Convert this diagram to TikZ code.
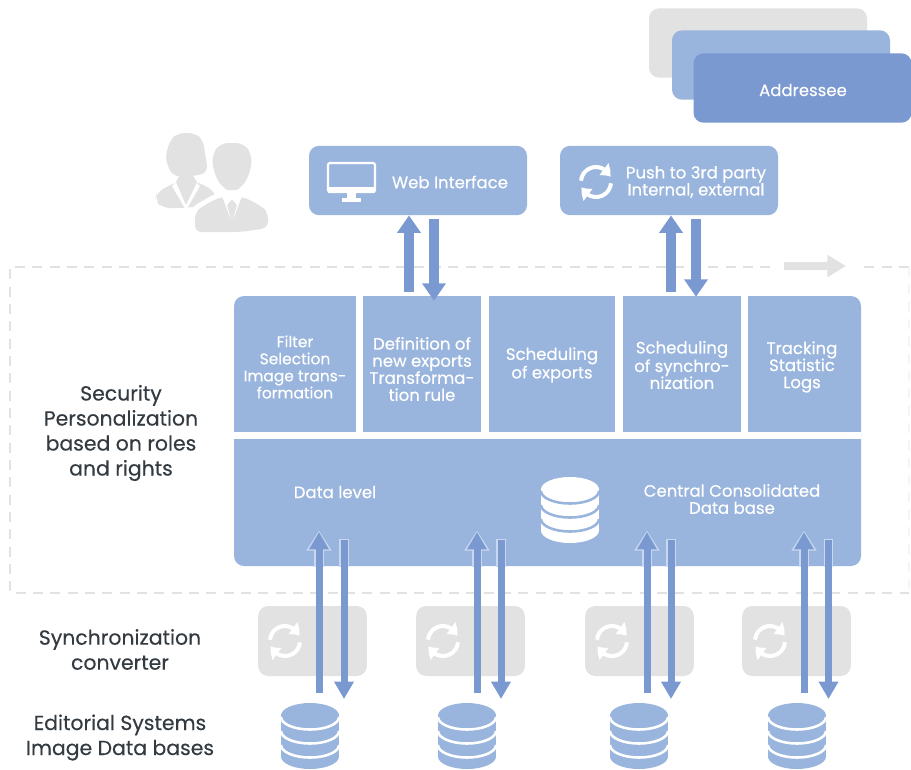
\documentclass[tikz,border=0pt]{standalone}
\usepackage{fontspec}
\setmainfont{Poppins}[FakeBold=0.3]
\usetikzlibrary{arrows.meta,bending}

\definecolor{panelblue}{HTML}{9AB5DD}
\definecolor{arrowblue}{HTML}{7B99D1}
\definecolor{halo}{HTML}{C9D8EE}
\definecolor{softgrey}{HTML}{E2E2E2}
\definecolor{labelgrey}{HTML}{333A40}

\tikzset{
	panel/.style={fill=panelblue, rounded corners=7.5pt, inner sep=0pt, minimum width=163.5pt, minimum height=52pt},
	syncbox/.style={fill=softgrey, rounded corners=7.5pt, inner sep=0pt, minimum width=81.5pt, minimum height=52.5pt},
	whitetext/.style={text=white, align=center, inner sep=0pt, font=\fontsize{12.4}{12.8}\selectfont},
	sidetext/.style={text=labelgrey, align=center, inner sep=0pt, font=\fontsize{15.3}{18.75}\selectfont},
	bigup/.style={arrowblue, line width=7pt, -{Triangle[length=13pt, width=17pt]}},
	thinup/.style={arrowblue, line width=5.25pt, -{Triangle[length=13pt, width=14pt]}},
	thinhalo/.style={halo, line width=7pt, -{Triangle[length=15pt, width=18pt]}}
}

\newcommand{\dbstack}[4]{
	\fill[#3] (#1-29,#2+12.5) rectangle (#1+29,#2+53.5);
	\fill[#3] (#1,#2+12.5) ellipse [x radius=29, y radius=12.5];
	\fill[#3] (#1,#2+53.5) ellipse [x radius=29, y radius=12.5];
	\draw[#4, line width=1.9pt] (#1-29,#2+14) arc [start angle=180, end angle=0, x radius=29, y radius=12.5];
	\draw[#4, line width=1.9pt] (#1-29,#2+28) arc [start angle=180, end angle=0, x radius=29, y radius=12.5];
	\draw[#4, line width=1.9pt] (#1-29,#2+42) arc [start angle=180, end angle=0, x radius=29, y radius=12.5];
}

\newcommand{\syncicon}[3]{
	\draw[white, line width=#3*0.2pt, -{Triangle[length=#3*0.5pt, width=#3*0.72pt, bend]}] (#1,#2) ++(185:#3) arc [start angle=185, end angle=340, radius=#3];
	\draw[white, line width=#3*0.2pt, -{Triangle[length=#3*0.5pt, width=#3*0.72pt, bend]}] (#1,#2) ++(5:#3) arc [start angle=5, end angle=160, radius=#3];
}

\begin{document}
\begin{tikzpicture}[x=0.75pt, y=-0.75pt]

	\useasboundingbox (0,0) rectangle (911,769);

	% dashed frame
	\draw[softgrey, line width=1.3pt, dash pattern=on 7.5pt off 5.5pt] (909,267) -- (10,267) -- (10,593) -- (909,593);
	\draw[softgrey!35, line width=1pt, dash pattern=on 7.5pt off 5.5pt] (909,267) -- (909,593);
	\fill[white] (776,262) rectangle (860,272);
	\coordinate (flowa) at (784,266);
	\coordinate (flowb) at (846,266);
	\draw[softgrey, line width=6pt, -{Triangle[length=14pt, width=16pt]}] (flowa) -- (flowb);

	% addressee stack
	\node[panel, fill=softgrey] (addrback) at (758,43) {};
	\node[panel] (addrmid) at (781,65) {};
	\node[panel, fill=arrowblue] (addrfront) at (802.5,88) {};
	\node[whitetext] (addrlabel) at (803,90) {Addressee};

	% people
	\fill[softgrey, rounded corners=5pt] (165,158) -- (170,140) -- (178,133) -- (195,133) -- (203,140) -- (208,172) -- (196,176) -- (172,176) -- cycle;
	\fill[softgrey, rounded corners=6pt] (155,200) -- (157,192) -- (178,181) -- (196,181) -- (216,192) -- (216,204) -- (185,208) -- (162,208) -- cycle;
	\fill[white] (186,210) -- (172,186) -- (180,178) -- (192,178) -- (200,186) -- cycle;
	\fill[softgrey] (186,205) -- (176,182) -- (180,174) -- (192,174) -- (197,182) -- cycle;
	\fill[white] (232,166) ellipse [x radius=23, y radius=29];
	\fill[white, rounded corners=6pt] (190,236) -- (190,208) -- (218,192) -- (246,192) -- (273,208) -- (273,236) -- cycle;
	\fill[softgrey, rounded corners=6pt] (212,155) -- (220,143) -- (244,143) -- (252,155) -- (251,170) -- (243,187) -- (232,192) -- (221,187) -- (213,170) -- cycle;
	\fill[softgrey, rounded corners=5pt] (195,232) -- (195,212) -- (203,206) -- (220,197) -- (244,197) -- (261,206) -- (268,212) -- (268,228) -- (240,232) -- cycle;
	\fill[white] (222,196) -- (231,220) -- (227,205) -- (232,199) -- (237,205) -- (233,220) -- (242,196) -- cycle;

	% upper panels
	\node[panel] (webif) at (418,180.5) {};
	\node[panel] (pushparty) at (669,180.5) {};
	\node[whitetext] (weblabel) at (450,182) {Web Interface};
	\node[whitetext] (pushlabel) at (696,182) {Push to 3rd party\\Internal, external};

	% monitor
	\draw[white, line width=1.6pt, rounded corners=1.5pt] (328,163) rectangle (375,192);
	\fill[white] (328,187) rectangle (375,193);
	\fill[white] (347,193) rectangle (356,199);
	\fill[white] (342,198) rectangle (361,202);
	\syncicon{596}{182}{15}

	% main block
	\fill[panelblue, rounded corners=7.5pt] (234,296) rectangle (861,566);
	\fill[white] (356,296) rectangle (363,432);
	\fill[white] (481,296) rectangle (488.5,432);
	\fill[white] (615,296) rectangle (623,432);
	\fill[white] (740.5,296) rectangle (748,432);
	\fill[white] (234,432) rectangle (861,439);

	\node[whitetext, minimum width=91pt, minimum height=102pt, font=\fontsize{11.6}{12.8}\selectfont] (filterbox) at (295,367) {Filter\\Selection\\Image trans-\\formation};
	\node[whitetext, minimum width=88pt, minimum height=102pt] (defexport) at (422,369) {Definition of\\new exports\\Transforma-\\tion rule};
	\node[whitetext, minimum width=95pt, minimum height=102pt] (schedexport) at (552,365) {Scheduling\\of exports};
	\node[whitetext, minimum width=88pt, minimum height=102pt] (schedsync) at (682,365) {Scheduling\\of synchro-\\nization};
	\node[whitetext, minimum width=84pt, minimum height=102pt] (tracking) at (802,367) {Tracking\\Statistic\\Logs};
	\node[whitetext] (datalevel) at (335,492) {Data level};
	\node[whitetext] (central) at (732,499) {Central Consolidated\\Data base};
	\dbstack{570}{477}{white}{panelblue}

	% upper arrows
	\coordinate (weba) at (409,292);
	\coordinate (webb) at (434,219);
	\coordinate (pusha) at (671,292);
	\coordinate (pushb) at (696,219);
	\draw[bigup] (weba) -- (weba |- webif.south);
	\draw[bigup] (webb) -- (webb |- defexport.north);
	\draw[bigup] (pusha) -- (pusha |- pushparty.south);
	\draw[bigup] (pushb) -- (pushb |- schedsync.north);

	% converters
	\node[syncbox] (synca) at (312.5,641) {};
	\node[syncbox] (syncb) at (470.5,641) {};
	\node[syncbox] (syncc) at (639.5,641) {};
	\node[syncbox] (syncd) at (796.5,641) {};
	\syncicon{285}{641}{15}
	\syncicon{443}{641}{15}
	\syncicon{612}{641}{15}
	\syncicon{770}{641}{15}

	% databases
	\dbstack{310}{703}{panelblue}{white}
	\dbstack{467}{703}{panelblue}{white}
	\dbstack{639}{703}{panelblue}{white}
	\dbstack{797}{703}{panelblue}{white}

	% lower arrows
	\coordinate (upa) at (319,693);
	\coordinate (uptipa) at (319,532);
	\coordinate (downa) at (344,540);
	\coordinate (downtipa) at (344,699);
	\coordinate (upb) at (477,693);
	\coordinate (uptipb) at (477,532);
	\coordinate (downb) at (501,540);
	\coordinate (downtipb) at (501,699);
	\coordinate (upc) at (647,693);
	\coordinate (uptipc) at (647,532);
	\coordinate (downc) at (671,540);
	\coordinate (downtipc) at (671,699);
	\coordinate (upd) at (804,693);
	\coordinate (uptipd) at (804,532);
	\coordinate (downd) at (828.5,540);
	\coordinate (downtipd) at (828.5,699);

	\begin{scope}
		\clip (234,296) rectangle (861,566);
		\draw[thinhalo] (upa) -- ([yshift=1pt]uptipa);
		\draw[thinhalo] (upb) -- ([yshift=1pt]uptipb);
		\draw[thinhalo] (upc) -- ([yshift=1pt]uptipc);
		\draw[thinhalo] (upd) -- ([yshift=1pt]uptipd);
		\draw[halo, line width=7pt] ([yshift=1pt]downa) -- (downtipa);
		\draw[halo, line width=7pt] ([yshift=1pt]downb) -- (downtipb);
		\draw[halo, line width=7pt] ([yshift=1pt]downc) -- (downtipc);
		\draw[halo, line width=7pt] ([yshift=1pt]downd) -- (downtipd);
	\end{scope}

	\draw[thinup] (upa) -- (uptipa);
	\draw[thinup] (downa) -- (downtipa);
	\draw[thinup] (upb) -- (uptipb);
	\draw[thinup] (downb) -- (downtipb);
	\draw[thinup] (upc) -- (uptipc);
	\draw[thinup] (downc) -- (downtipc);
	\draw[thinup] (upd) -- (uptipd);
	\draw[thinup] (downd) -- (downtipd);

	% side labels
	\node[sidetext] (security) at (121,433) {Security\\Personalization\\based on roles\\and rights};
	\node[sidetext] (converter) at (120,649.5) {Synchronization\\converter};
	\node[sidetext] (editorial) at (120,737.5) {Editorial Systems\\Image Data bases};

\end{tikzpicture}
\end{document}
